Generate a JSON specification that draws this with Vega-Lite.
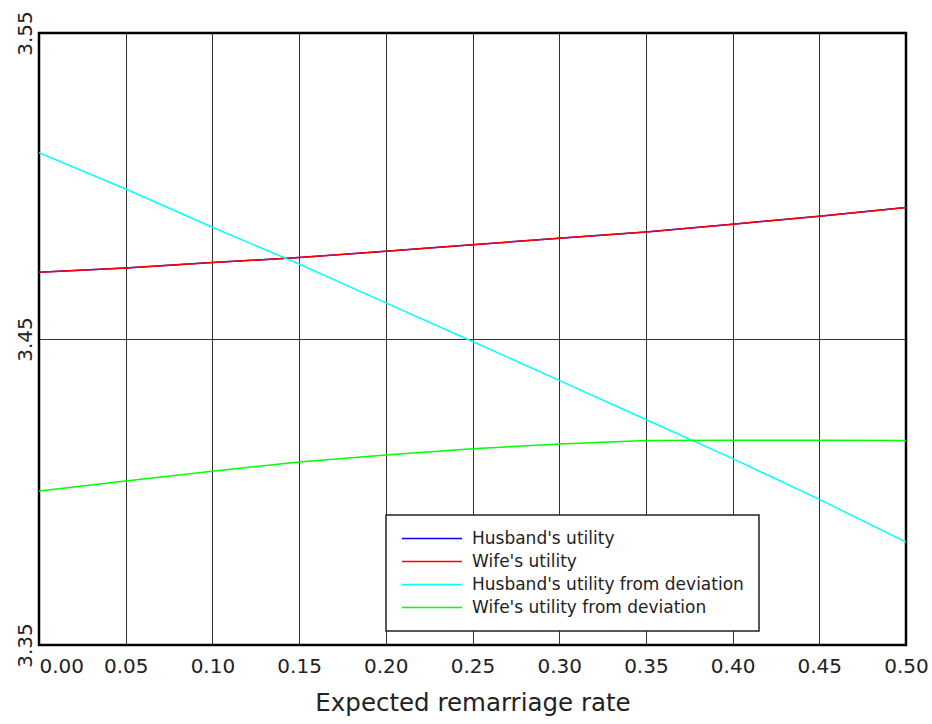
{
  "$schema": "https://vega.github.io/schema/vega-lite/v6.json",
  "width": 867,
  "height": 612,
  "autosize": {"type": "none"},
  "padding": {"left": 39, "top": 33, "right": 26, "bottom": 79},
  "background": "white",
  "config": {
    "font": "DejaVu Sans",
    "view": {"stroke": "#000", "strokeWidth": 2.5},
    "axis": {"labelColor": "#222", "titleColor": "#222", "domain": false, "ticks": false, "gridColor": "#000", "gridOpacity": 0.8, "gridWidth": 1}
  },
  "data": {"values": [
    {"x": 0.00, "s": "Husband's utility", "y": 3.4718},
    {"x": 0.05, "s": "Husband's utility", "y": 3.4732},
    {"x": 0.10, "s": "Husband's utility", "y": 3.4750},
    {"x": 0.15, "s": "Husband's utility", "y": 3.4766},
    {"x": 0.20, "s": "Husband's utility", "y": 3.4787},
    {"x": 0.25, "s": "Husband's utility", "y": 3.4808},
    {"x": 0.30, "s": "Husband's utility", "y": 3.4829},
    {"x": 0.35, "s": "Husband's utility", "y": 3.4850},
    {"x": 0.40, "s": "Husband's utility", "y": 3.4875},
    {"x": 0.45, "s": "Husband's utility", "y": 3.4901},
    {"x": 0.50, "s": "Husband's utility", "y": 3.4930},
    {"x": 0.00, "s": "Wife's utility", "y": 3.4718},
    {"x": 0.05, "s": "Wife's utility", "y": 3.4732},
    {"x": 0.10, "s": "Wife's utility", "y": 3.4750},
    {"x": 0.15, "s": "Wife's utility", "y": 3.4766},
    {"x": 0.20, "s": "Wife's utility", "y": 3.4787},
    {"x": 0.25, "s": "Wife's utility", "y": 3.4808},
    {"x": 0.30, "s": "Wife's utility", "y": 3.4829},
    {"x": 0.35, "s": "Wife's utility", "y": 3.4850},
    {"x": 0.40, "s": "Wife's utility", "y": 3.4875},
    {"x": 0.45, "s": "Wife's utility", "y": 3.4901},
    {"x": 0.50, "s": "Wife's utility", "y": 3.4930},
    {"x": 0.00, "s": "Husband's utility from deviation", "y": 3.5109},
    {"x": 0.05, "s": "Husband's utility from deviation", "y": 3.4990},
    {"x": 0.10, "s": "Husband's utility from deviation", "y": 3.4865},
    {"x": 0.15, "s": "Husband's utility from deviation", "y": 3.4745},
    {"x": 0.20, "s": "Husband's utility from deviation", "y": 3.4618},
    {"x": 0.25, "s": "Husband's utility from deviation", "y": 3.4492},
    {"x": 0.30, "s": "Husband's utility from deviation", "y": 3.4365},
    {"x": 0.35, "s": "Husband's utility from deviation", "y": 3.4237},
    {"x": 0.40, "s": "Husband's utility from deviation", "y": 3.4109},
    {"x": 0.45, "s": "Husband's utility from deviation", "y": 3.3976},
    {"x": 0.50, "s": "Husband's utility from deviation", "y": 3.3836},
    {"x": 0.00, "s": "Wife's utility from deviation", "y": 3.4003},
    {"x": 0.05, "s": "Wife's utility from deviation", "y": 3.4036},
    {"x": 0.10, "s": "Wife's utility from deviation", "y": 3.4068},
    {"x": 0.15, "s": "Wife's utility from deviation", "y": 3.4098},
    {"x": 0.20, "s": "Wife's utility from deviation", "y": 3.4121},
    {"x": 0.25, "s": "Wife's utility from deviation", "y": 3.4141},
    {"x": 0.30, "s": "Wife's utility from deviation", "y": 3.4157},
    {"x": 0.35, "s": "Wife's utility from deviation", "y": 3.4168},
    {"x": 0.40, "s": "Wife's utility from deviation", "y": 3.4169},
    {"x": 0.45, "s": "Wife's utility from deviation", "y": 3.4169},
    {"x": 0.50, "s": "Wife's utility from deviation", "y": 3.4168}
  ]},
  "mark": {"type": "line", "strokeWidth": 1.5, "clip": true},
  "encoding": {
    "x": {
      "field": "x", "type": "quantitative",
      "scale": {"domain": [0, 0.5], "nice": false, "zero": false},
      "axis": {
        "title": "Expected remarriage rate",
        "values": [0, 0.05, 0.1, 0.15, 0.2, 0.25, 0.3, 0.35, 0.4, 0.45, 0.5],
        "format": ".2f",
        "labelFontSize": 20,
        "labelPadding": 11,
        "labelAlign": {"condition": {"test": "datum.value === 0", "value": "left"}, "value": "center"},
        "titleFontSize": 24.5,
        "titleFontWeight": "normal",
        "titlePadding": 15,
        "grid": true
      }
    },
    "y": {
      "field": "y", "type": "quantitative",
      "scale": {"domain": [3.35, 3.55], "nice": false, "zero": false},
      "axis": {
        "title": null,
        "values": [3.35, 3.45, 3.55],
        "format": ".2f",
        "labelFontSize": 20,
        "labelAngle": -90,
        "labelAlign": "center",
        "labelBaseline": "alphabetic",
        "labelPadding": 8,
        "grid": true
      }
    },
    "color": {
      "field": "s", "type": "nominal",
      "sort": ["Husband's utility", "Wife's utility", "Husband's utility from deviation", "Wife's utility from deviation"],
      "scale": {
        "domain": ["Husband's utility", "Wife's utility", "Husband's utility from deviation", "Wife's utility from deviation"],
        "range": ["#0000ff", "#ff0000", "#00ffff", "#00ff00"]
      },
      "legend": {
        "title": null,
        "orient": "none",
        "legendX": 347,
        "legendY": 482,
        "direction": "vertical",
        "fillColor": "white",
        "strokeColor": "#222",
        "padding": 15,
        "symbolType": "M-1,0H7",
        "symbolSize": 225,
        "symbolStrokeWidth": 1.5,
        "labelFontSize": 17,
        "labelColor": "#222",
        "labelOffset": 54,
        "labelLimit": 400,
        "rowPadding": 5,
        "encode": {"legend": {"update": {"strokeWidth": {"value": 1.5}}}}
      }
    },
    "order": {"field": "x", "type": "quantitative"}
  }
}
